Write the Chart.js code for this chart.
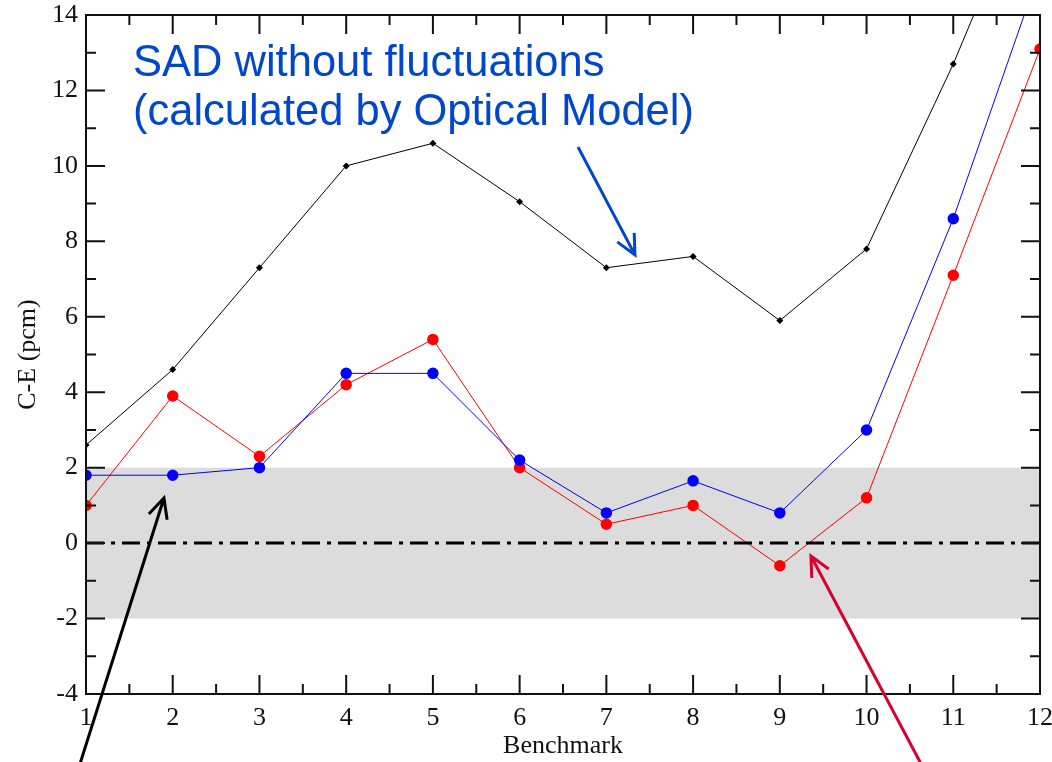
<!DOCTYPE html>
<html lang="en">
<head>
    <meta charset="UTF-8">
    <title>C-E by Benchmark</title>
    <style>
        body {
            margin: 0;
            padding: 0;
            background-color: #fff;
        }
        .chart-container {
            width: 1052px;
            height: 762px;
            position: relative;
        }
    </style>
</head>
<body>
    <div class="chart-container">
        <canvas id="ceChart"></canvas>
    </div>
    <script src="https://cdn.jsdelivr.net/npm/chart.js"></script>
    <script>
        // Benchmark numbers (x axis)
        const benchmarks = [1, 2, 3, 4, 5, 6, 7, 8, 9, 10, 11, 12];

        // C-E values in pcm
        const sadNoFluct = [2.6, 4.6, 7.3, 10.0, 10.6, 9.05, 7.3, 7.6, 5.9, 7.8, 12.7, 18.2];
        const blueSeries = [1.8, 1.8, 2.0, 4.5, 4.5, 2.2, 0.8, 1.65, 0.8, 3.0, 8.6, 15.2];
        const redSeries = [1.0, 3.9, 2.3, 4.2, 5.4, 2.0, 0.5, 1.0, -0.6, 1.2, 7.1, 13.1];

        // Axis ranges / ticks
        const xRange = [1, 12];
        const yRange = [-4, 14];
        const yStep = 2;

        // Shaded band and reference line
        const bandLimits = [-2, 2];
        const zeroLine = 0;

        // Annotation text and arrows, in data units
        const noteLines = ['SAD without fluctuations', '(calculated by Optical Model)'];
        const noteAnchor = { x: 1.542, y: [12.38, 11.08] };
        const arrows = [
            { from: [6.673, 10.50], to: [7.33, 7.64], color: '#0047cc' },
            { from: [0.931, -5.85], to: [1.899, 1.195], color: '#000000' },
            { from: [10.628, -5.85], to: [9.359, -0.343], color: '#d90030' }
        ];

        const toPoints = (vals) => vals.map((v, i) => ({ x: benchmarks[i], y: v }));

        // Band behind the curves
        const bandPlugin = {
            id: 'band',
            beforeDatasetsDraw(chart) {
                const { ctx, chartArea, scales } = chart;
                const yTop = scales.y.getPixelForValue(bandLimits[1]);
                const yBot = scales.y.getPixelForValue(bandLimits[0]);
                ctx.save();
                ctx.fillStyle = '#dcdcdc';
                ctx.fillRect(chartArea.left, yTop, chartArea.right - chartArea.left, yBot - yTop);
                ctx.restore();
            }
        };

        // Frame, inward ticks and the blue/black/red notes
        const framePlugin = {
            id: 'frame',
            afterDraw(chart) {
                const { ctx, chartArea: a, scales } = chart;
                const xs = scales.x, ys = scales.y;
                ctx.save();
                ctx.strokeStyle = '#111';
                ctx.lineWidth = 2;
                ctx.strokeRect(a.left, a.top, a.right - a.left, a.bottom - a.top);

                ctx.beginPath();
                for (let v = xRange[0]; v <= xRange[1] + 0.001; v += 0.5) {
                    const px = xs.getPixelForValue(v);
                    const len = Number.isInteger(v) ? 19 : 10;
                    ctx.moveTo(px, a.bottom); ctx.lineTo(px, a.bottom - len);
                    ctx.moveTo(px, a.top); ctx.lineTo(px, a.top + len);
                }
                for (let v = yRange[0]; v <= yRange[1]; v += 1) {
                    const py = ys.getPixelForValue(v);
                    const len = v % yStep === 0 ? 19 : 10;
                    ctx.moveTo(a.left, py); ctx.lineTo(a.left + len, py);
                    ctx.moveTo(a.right, py); ctx.lineTo(a.right - len, py);
                }
                ctx.stroke();

                // arrows
                arrows.forEach(ar => {
                    const x1 = xs.getPixelForValue(ar.from[0]), y1 = ys.getPixelForValue(ar.from[1]);
                    const x2 = xs.getPixelForValue(ar.to[0]), y2 = ys.getPixelForValue(ar.to[1]);
                    const ang = Math.atan2(y2 - y1, x2 - x1);
                    const head = 22;
                    ctx.strokeStyle = ar.color;
                    ctx.lineWidth = 3;
                    ctx.beginPath();
                    ctx.moveTo(x1, y1); ctx.lineTo(x2, y2);
                    ctx.moveTo(x2 - head * Math.cos(ang - 0.45), y2 - head * Math.sin(ang - 0.45));
                    ctx.lineTo(x2, y2);
                    ctx.lineTo(x2 - head * Math.cos(ang + 0.45), y2 - head * Math.sin(ang + 0.45));
                    ctx.stroke();
                });

                // note text
                ctx.fillStyle = '#0047cc';
                ctx.font = '43.5px "Liberation Sans", Arial, sans-serif';
                ctx.textAlign = 'left';
                ctx.textBaseline = 'alphabetic';
                noteLines.forEach((t, i) => {
                    ctx.fillText(t, xs.getPixelForValue(noteAnchor.x), ys.getPixelForValue(noteAnchor.y[i]));
                });
                ctx.restore();
            }
        };

        const serif = { family: '"Liberation Serif", "Times New Roman", serif', size: 26 };

        const ceChart = new Chart(document.getElementById('ceChart'), {
            type: 'line',
            data: {
                datasets: [{
                    label: 'zero',
                    data: [{ x: xRange[0], y: zeroLine }, { x: xRange[1], y: zeroLine }],
                    borderColor: '#000',
                    borderWidth: 3,
                    borderDash: [18, 7, 4, 7],
                    pointRadius: 0
                }, {
                    label: 'SAD without fluctuations',
                    data: toPoints(sadNoFluct),
                    borderColor: '#000',
                    backgroundColor: '#000',
                    borderWidth: 1,
                    pointStyle: 'rectRot',
                    pointRadius: 3.5,
                    pointBorderWidth: 0
                }, {
                    label: 'blue',
                    data: toPoints(blueSeries),
                    borderColor: '#0000ff',
                    backgroundColor: '#0000ff',
                    borderWidth: 1,
                    pointStyle: 'circle',
                    pointRadius: 5,
                    pointBorderWidth: 1.5
                }, {
                    label: 'red',
                    data: toPoints(redSeries),
                    borderColor: '#ff0000',
                    backgroundColor: '#ff0000',
                    borderWidth: 1,
                    pointStyle: 'circle',
                    pointRadius: 5,
                    pointBorderWidth: 1.5
                }]
            },
            options: {
                responsive: true,
                maintainAspectRatio: false,
                animation: false,
                layout: { padding: { top: 15, right: 12, left: 0, bottom: 0 } },
                plugins: {
                    legend: { display: false },
                    tooltip: { enabled: false }
                },
                scales: {
                    x: {
                        type: 'linear',
                        min: xRange[0],
                        max: xRange[1],
                        grid: { display: false, drawTicks: false },
                        border: { display: false },
                        ticks: { stepSize: 1, autoSkip: false, maxRotation: 0, color: '#111', font: serif, padding: 9 },
                        title: { display: true, text: 'Benchmark', color: '#111', font: { ...serif, lineHeight: 1 }, padding: 3 },
                        afterFit(scale) {
                            scale.height = 68;
                            scale.paddingLeft = 0;
                            scale.paddingRight = 0;
                        }
                    },
                    y: {
                        min: yRange[0],
                        max: yRange[1],
                        grid: { display: false, drawTicks: false },
                        border: { display: false },
                        ticks: { stepSize: yStep, color: '#111', font: serif, padding: 8 },
                        title: { display: true, text: 'C-E (pcm)', color: '#111', font: { ...serif, lineHeight: 1 }, padding: 15 },
                        afterFit(scale) {
                            scale.width = 86;
                            scale.paddingTop = 0;
                            scale.paddingBottom = 0;
                        }
                    }
                }
            },
            plugins: [bandPlugin, framePlugin]
        });
    </script>
</body>
</html>
